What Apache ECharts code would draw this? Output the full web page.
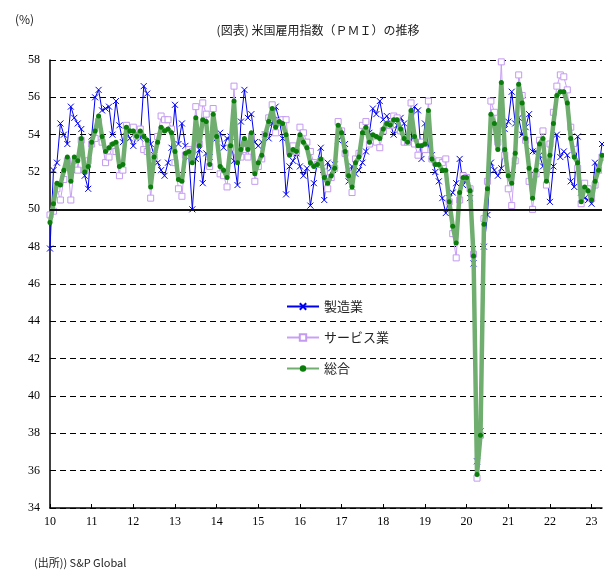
<!DOCTYPE html>
<html>
<head>
<meta charset="utf-8">
<script src="https://cdn.jsdelivr.net/npm/echarts@6/dist/echarts.min.js"></script>
<style>
  html, body { margin: 0; padding: 0; background: #fff; }
  #chart { width: 604px; height: 574px; }
</style>
</head>
<body>
<div id="chart"></div>
<script>
// Year tick labels (2010 .. 2023), one label every 12 months
const yearLabels = ['10','11','12','13','14','15','16','17','18','19','20','21','22','23'];

// Monthly employment index, Jan 2010 – Apr 2023
const manufacturing = [
  47.9,52.1,52.5,54.6,54.0,53.5,55.5,54.9,54.6,54.3,51.8,51.1,
  53.9,56.0,56.4,55.3,55.4,55.5,54.0,55.8,54.5,53.6,54.2,53.8,
  53.4,54.0,53.8,56.6,56.2,53.5,52.9,52.5,52.1,51.8,52.5,53.3,
  55.6,53.5,54.6,53.4,52.8,50.0,52.7,53.2,51.4,53.0,52.8,54.0,
  53.8,54.1,53.3,53.8,53.9,52.6,51.3,54.7,56.4,54.9,55.1,53.6,
  53.4,53.6,54.0,53.8,54.6,55.5,54.8,53.8,50.8,52.3,52.6,53.0,
  52.3,51.8,52.2,50.2,51.4,52.5,53.3,50.5,52.5,52.2,52.4,53.7,
  53.9,53.5,51.5,52.3,51.9,52.1,52.5,53.1,54.1,55.4,55.1,55.8,
  54.8,55.0,54.6,54.0,54.5,54.9,54.6,53.6,53.7,55.5,55.3,52.7,
  54.6,53.4,52.9,52.0,51.5,50.6,49.8,50.6,50.9,51.4,52.7,51.3,
  51.6,50.6,47.1,36.5,38.1,48.0,49.7,52.5,52.1,51.8,52.2,54.3,
  54.7,56.3,54.6,54.9,54.0,54.4,55.1,53.1,53.1,52.9,52.3,52.3,
  50.4,52.3,54.0,52.8,53.1,52.9,51.5,51.2,53.9,50.9,50.6,50.5,
  50.3,52.5,52.1,53.5
];
const services = [
  49.7,49.9,51.1,50.5,51.6,52.6,50.5,52.3,52.1,53.7,52.1,52.6,
  53.5,53.8,54.7,53.6,52.5,52.8,53.4,53.1,51.8,52.1,54.5,54.3,
  54.4,53.9,54.3,53.2,53.1,50.6,52.8,53.9,55.0,54.8,54.8,54.3,
  52.5,51.1,50.7,52.9,53.2,53.1,55.5,53.5,55.7,55.1,52.3,55.4,
  53.9,51.9,51.8,51.2,53.3,56.6,52.8,52.8,53.2,52.8,53.9,51.5,
  52.3,52.7,54.0,54.9,55.6,54.1,54.7,54.8,54.8,53.1,53.4,53.1,
  54.4,54.1,53.6,53.1,52.5,52.4,52.6,52.0,51.1,51.7,52.2,54.7,
  54.2,53.0,51.9,50.9,52.7,53.0,54.5,54.7,53.5,53.7,53.6,53.3,
  54.2,54.5,54.5,55.0,54.9,54.2,53.6,53.6,55.7,53.5,52.9,53.6,
  53.2,55.8,52.7,52.5,52.6,52.5,52.7,50.4,48.7,47.4,50.5,51.8,
  51.7,51.1,47.6,35.6,37.9,49.5,51.5,55.8,55.2,53.6,57.9,52.9,
  51.1,50.2,52.6,57.2,56.1,53.7,51.5,50.0,51.9,53.7,54.2,51.3,
  53.5,55.2,56.6,57.2,57.1,56.4,54.4,53.2,52.2,50.3,51.4,51.1,
  50.6,51.3,52.1,52.8
];
const composite = [
  49.3,50.3,51.4,51.3,52.1,52.8,51.5,52.8,52.6,53.8,52.0,52.3,
  53.6,54.2,55.0,53.9,53.1,53.3,53.5,53.6,52.3,52.4,54.4,54.2,
  54.2,53.9,54.2,53.9,53.7,51.2,52.8,53.6,54.4,54.2,54.3,54.1,
  53.1,51.6,51.5,53.0,53.1,52.5,54.9,53.4,54.8,54.7,52.4,55.1,
  53.9,52.3,52.1,51.7,53.4,55.8,52.5,53.2,53.8,53.2,54.1,51.9,
  52.5,52.9,54.0,54.7,55.4,54.4,54.7,54.6,54.0,52.9,53.2,53.1,
  54.0,53.6,53.3,52.5,52.3,52.4,52.7,51.7,51.4,51.8,52.2,54.5,
  54.1,53.1,51.8,51.2,52.5,52.8,54.1,54.4,53.6,54.0,53.9,53.8,
  54.3,54.6,54.5,54.8,54.8,54.3,53.8,53.6,55.3,53.9,53.4,53.4,
  53.5,55.3,52.7,52.4,52.4,52.1,52.1,50.4,49.1,48.2,50.9,51.7,
  51.7,51.0,47.5,35.8,37.9,49.2,51.1,55.1,54.6,53.2,56.8,53.2,
  51.8,51.4,53.0,56.7,55.7,53.8,52.2,50.6,52.1,53.5,53.8,51.5,
  52.9,54.6,56.1,56.3,56.3,55.7,53.8,52.8,52.5,50.4,51.2,51.0,
  50.5,51.5,52.1,52.9
];

// One category per month, labelled by the year's two-digit form
const months = [];
yearLabels.forEach(function (y) {
  for (let m = 1; m <= 12; m++) months.push(y + '/' + m);
});
months.length = composite.length;

const serifNum = '"Liberation Serif", "DejaVu Serif", serif';
const jpFont = '"Noto Sans CJK JP", sans-serif';

const chart = echarts.init(document.getElementById('chart'), null, { renderer: 'canvas' });

chart.setOption({
  animation: false,
  backgroundColor: '#ffffff',
  title: {
    text: '(図表) 米国雇用指数（ＰＭＩ）の推移',
    left: 313,
    textAlign: 'center',
    top: 19,
    textStyle: { fontFamily: jpFont, fontSize: 12, fontWeight: 'normal', color: '#222' }
  },
  graphic: [
    { type: 'text', left: 15, top: 13,
      style: { text: '(%)', font: '12px ' + jpFont, fill: '#222' } },
    { type: 'text', left: 34, top: 557,
      style: { text: '(出所)) S&P Global', font: '11px ' + jpFont, fill: '#222' } }
  ],
  legend: {
    orient: 'vertical',
    left: 281,
    top: 295,
    itemWidth: 32,
    itemHeight: 8,
    itemGap: 18,
    textStyle: { fontFamily: jpFont, fontSize: 13, color: '#222' },
    data: ['製造業', 'サービス業', '総合']
  },
  grid: { left: 50, right: 2, top: 60, bottom: 66, containLabel: false },
  xAxis: {
    type: 'category',
    data: months,
    boundaryGap: false,
    axisLine: { lineStyle: { color: '#000', width: 1.5 } },
    axisTick: {
      inside: true, length: 4,
      interval: function (i) { return i % 12 === 0; },
      lineStyle: { color: '#000' }
    },
    axisLabel: {
      interval: function (i) { return i % 12 === 0; },
      formatter: function (v, i) { return yearLabels[Math.floor(i / 12)]; },
      margin: 8,
      fontFamily: serifNum, fontSize: 12, color: '#000'
    },
    splitLine: { show: false }
  },
  yAxis: {
    type: 'value',
    min: 34, max: 58, interval: 2,
    axisLine: { show: true, lineStyle: { color: '#000', width: 1.5 } },
    axisTick: { show: false },
    axisLabel: { margin: 10, fontFamily: serifNum, fontSize: 12, color: '#000' },
    splitLine: { show: true, lineStyle: { color: '#000', type: [6, 4], width: 1 } }
  },
  series: [
    {
      name: '製造業',
      type: 'line',
      data: manufacturing,
      showAllSymbol: true,
      symbol: 'path://M0,0L10,10M10,0L0,10',
      symbolSize: 6,
      lineStyle: { color: '#0000f0', width: 1 },
      itemStyle: { color: '#0000f0', borderColor: '#0000f0', borderWidth: 1 },
      z: 2,
      markLine: {
        silent: true,
        symbol: 'none',
        label: { show: false },
        lineStyle: { color: '#111', type: 'solid', width: 2 },
        data: [{ yAxis: 50 }]
      }
    },
    {
      name: 'サービス業',
      type: 'line',
      data: services,
      showAllSymbol: true,
      symbol: 'rect',
      symbolSize: 6,
      lineStyle: { color: '#c8a0f5', width: 1 },
      itemStyle: { color: '#ffffff', borderColor: '#c39af0', borderWidth: 1 },
      z: 3
    },
    {
      name: '総合',
      type: 'line',
      data: composite,
      showAllSymbol: true,
      symbol: 'circle',
      symbolSize: 5,
      lineStyle: { color: '#6fae6f', width: 4.5 },
      itemStyle: { color: '#0b7d0b' },
      z: 4
    }
  ]
});
</script>
</body>
</html>
